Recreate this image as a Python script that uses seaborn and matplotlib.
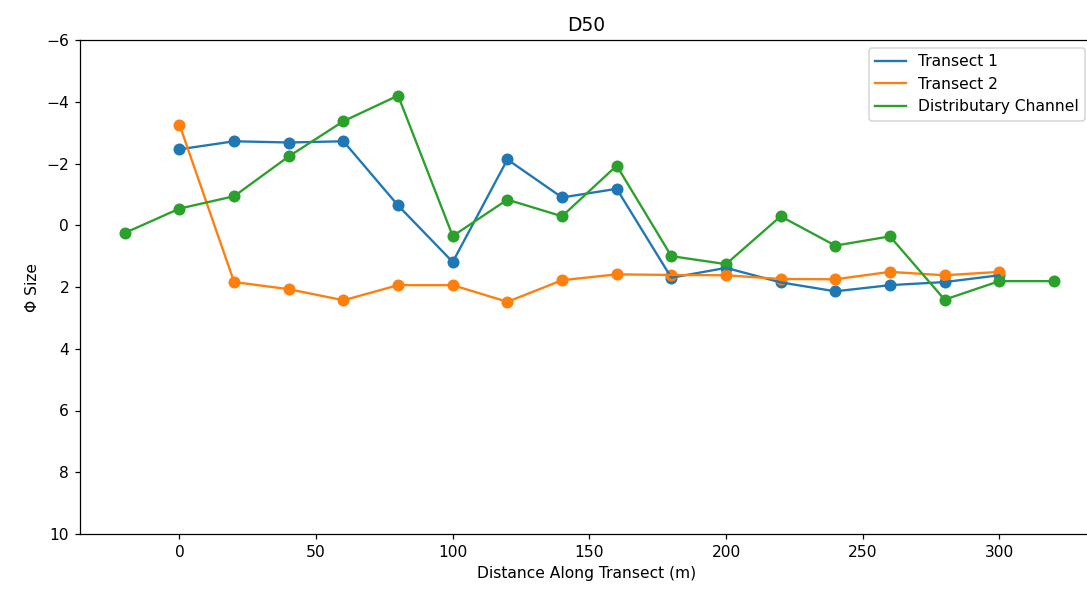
import matplotlib
matplotlib.use('Agg')
import matplotlib.pyplot as plt
import seaborn as sns
import numpy as np

# distance along transect (m)
dist1 = [0, 20, 40, 60, 80, 100, 120, 140, 160, 180, 200, 220, 240, 260, 280, 300]
dist2 = [0, 20, 40, 60, 80, 100, 120, 140, 160, 180, 200, 220, 240, 260, 280, 300]
dist3 = [-20, 0, 20, 40, 60, 80, 100, 120, 140, 160, 180, 200, 220, 240, 260, 280, 300, 320]

# D50 in phi units
transect1 = [-2.46, -2.72, -2.68, -2.72, -0.64, 1.19, -2.13, -0.90, -1.18, 1.70,
             1.38, 1.85, 2.14, 1.94, 1.84, 1.62]
transect2 = [-3.26, 1.84, 2.07, 2.43, 1.94, 1.94, 2.48, 1.78, 1.59, 1.61,
             1.62, 1.74, 1.75, 1.51, 1.62, 1.51]
channel = [0.25, -0.54, -0.94, -2.23, -3.37, -4.20, 0.35, -0.83, -0.29, -1.93,
           1.00, 1.26, -0.29, 0.66, 0.36, 2.41, 1.81, 1.81]

names = ['Transect 1', 'Transect 2', 'Distributary Channel']
colors = sns.color_palette('tab10', 3)

dpi = 111.6
fig = plt.figure(figsize=(1087 / dpi, 598 / dpi), dpi=dpi)
# right spine sits just past the image edge, like the original screenshot
ax = fig.add_axes([80 / 1087, 64 / 598, 1013 / 1087, 494 / 598])

series = [(dist1, transect1), (dist2, transect2), (dist3, channel)]
for (x, y), name, c in zip(series, names, colors):
    sns.lineplot(x=x, y=y, color=c, label=name, ax=ax, linewidth=1.5)
    sns.scatterplot(x=x, y=y, color=c, s=60, linewidth=0, ax=ax, legend=False)

ax.set_ylim(10, -6)
ax.set_xlim(-36.4, 334.3)
ax.set_xticks([0, 50, 100, 150, 200, 250, 300])
ax.set_yticks(np.arange(-6, 11, 2))
ax.set_title('D50')
ax.set_xlabel('Distance Along Transect (m)')
ax.set_ylabel('Φ Size')
ax.legend(loc='upper right')

fig.savefig('out.png', dpi=dpi)
